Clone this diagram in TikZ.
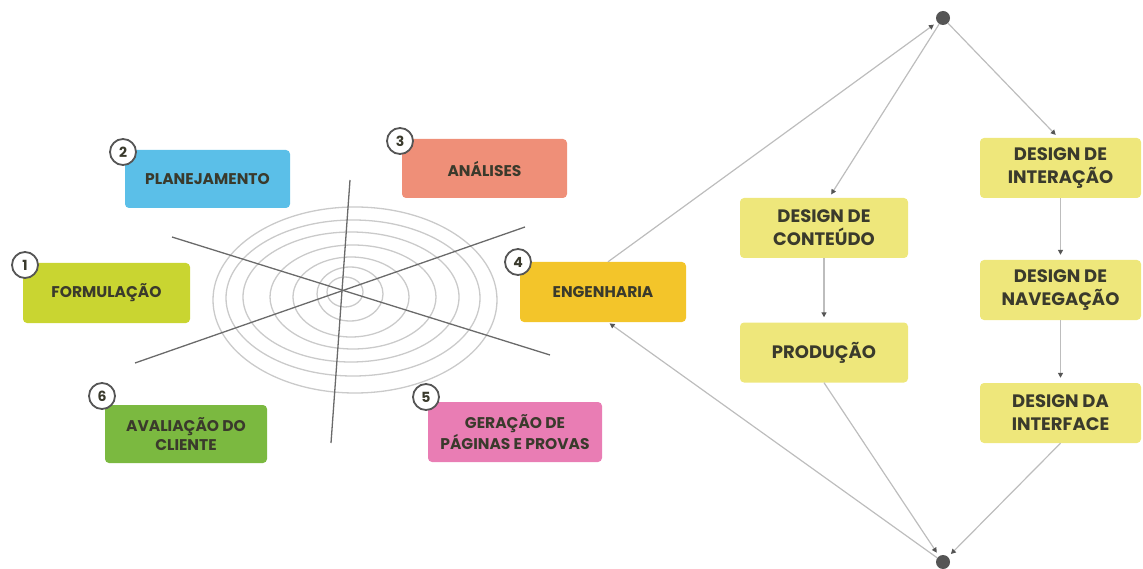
\documentclass[tikz,border=0pt]{standalone}
\usepackage{fontspec}
\setmainfont{Poppins}
\usetikzlibrary{arrows.meta}
\definecolor{cForm}{HTML}{C9D531}
\definecolor{cPlan}{HTML}{5BBFE8}
\definecolor{cAnal}{HTML}{EF8F78}
\definecolor{cEng}{HTML}{F3C52A}
\definecolor{cGer}{HTML}{E97DB4}
\definecolor{cAval}{HTML}{7BB940}
\definecolor{cDes}{HTML}{EEE77B}
\definecolor{cTxt}{HTML}{3A3A2C}
\definecolor{cRing}{HTML}{CACACA}
\definecolor{cSpoke}{HTML}{6A6A6A}
\definecolor{cLink}{HTML}{BDBDBD}
\definecolor{cDot}{HTML}{555555}
\tikzset{
  phase/.style={rounded corners=4pt, align=center, text=cTxt, font=\fontsize{15.5}{19}\selectfont\bfseries, inner sep=0pt},
  design/.style={rounded corners=4pt, fill=cDes, align=center, text=cTxt, font=\fontsize{18}{23}\selectfont\bfseries, inner sep=0pt, minimum width=168pt, minimum height=60pt},
  numc/.style={circle, draw=cDot, line width=1.8pt, fill=white, minimum size=26pt, inner sep=0pt, text=cTxt, font=\fontsize{14}{14}\selectfont\bfseries},
  ring/.style={draw=cRing, line width=1.3pt},
  spoke/.style={draw=cSpoke, line width=1.3pt},
  link/.style={draw=cLink, line width=1.2pt},
  tip/.style={-{Triangle[length=5pt,width=5pt,color=cDot]}},
  dotnode/.style={circle, fill=cDot, minimum size=14pt, inner sep=0pt}
}
\begin{document}
\begin{tikzpicture}[x=1pt,y=-1pt]
\useasboundingbox (0,0) rectangle (1143,569);
% spiral rings
\draw[ring] (345,292) ellipse [x radius=18, y radius=15];
\draw[ring] (350,294) ellipse [x radius=33, y radius=27];
\draw[ring] (351,297) ellipse [x radius=58, y radius=40];
\draw[ring] (353,297) ellipse [x radius=83, y radius=52];
\draw[ring] (351,297) ellipse [x radius=108, y radius=65];
\draw[ring] (353,298) ellipse [x radius=127, y radius=78];
\draw[ring] (355,300) ellipse [x radius=142, y radius=93];
% spokes
\draw[spoke] (350,180) -- (331,443);
\draw[spoke] (172,237) -- (550,355);
\draw[spoke] (135,363) -- (525,227);
% phase boxes
\node[phase, fill=cForm, minimum width=167pt, minimum height=60pt] (form) at (106.5,293) {FORMULAÇÃO};
\node[phase, fill=cPlan, minimum width=165pt, minimum height=58pt] (plan) at (207.5,179) {PLANEJAMENTO};
\node[phase, fill=cAnal, minimum width=165pt, minimum height=59pt] (anal) at (484.5,168.5) {ANÁLISES};
\node[phase, fill=cEng, minimum width=166pt, minimum height=60pt] (eng) at (603,292) {ENGENHARIA};
\node[phase, fill=cGer, minimum width=174pt, minimum height=60pt] (ger) at (515,432) {GERAÇÃO DE\\PÁGINAS E PROVAS};
\node[phase, fill=cAval, minimum width=162pt, minimum height=58pt] (aval) at (186,434) {AVALIAÇÃO DO\\CLIENTE};
% number circles
\node[numc] (n1) at (25,265) {1};
\node[numc] (n2) at (123,152) {2};
\node[numc] (n3) at (400,141) {3};
\node[numc] (n4) at (518,262) {4};
\node[numc] (n5) at (426,397) {5};
\node[numc] (n6) at (102,396) {6};
% design boxes
\node[design] (cont) at (824,228) {DESIGN DE\\CONTEÚDO};
\node[design] (prod) at (824,352.5) {PRODUÇÃO};
\node[design, minimum width=161pt] (inter) at (1060.5,168) {DESIGN DE\\INTERAÇÃO};
\node[design, minimum width=161pt] (nav) at (1060.5,290) {DESIGN DE\\NAVEGAÇÃO};
\node[design, minimum width=161pt] (intf) at (1060.5,413) {DESIGN DA\\INTERFACE};
% dots
\node[dotnode] (top) at (943,18) {};
\node[dotnode] (bot) at (943,562) {};
% links
\draw[link, tip, shorten >=4pt] ([xshift=5pt]eng.north) -- (top);
\draw[link, tip, shorten >=2pt] (bot) -- ([xshift=5pt]eng.south);
\draw[link, tip, shorten >=4pt] (top) -- ([xshift=5pt]cont.north);
\draw[link, tip, shorten >=4pt] (top) -- ([xshift=-2pt]inter.north);
\draw[link, tip, shorten >=5pt] (inter) -- (nav);
\draw[link, tip, shorten >=5pt] (cont) -- (prod);
\draw[link, tip, shorten >=5pt] (nav) -- (intf);
\draw[link, tip, shorten >=4pt] (prod.south) -- (bot);
\draw[link, tip, shorten >=4pt] (intf.south) -- (bot);
\end{tikzpicture}
\end{document}
